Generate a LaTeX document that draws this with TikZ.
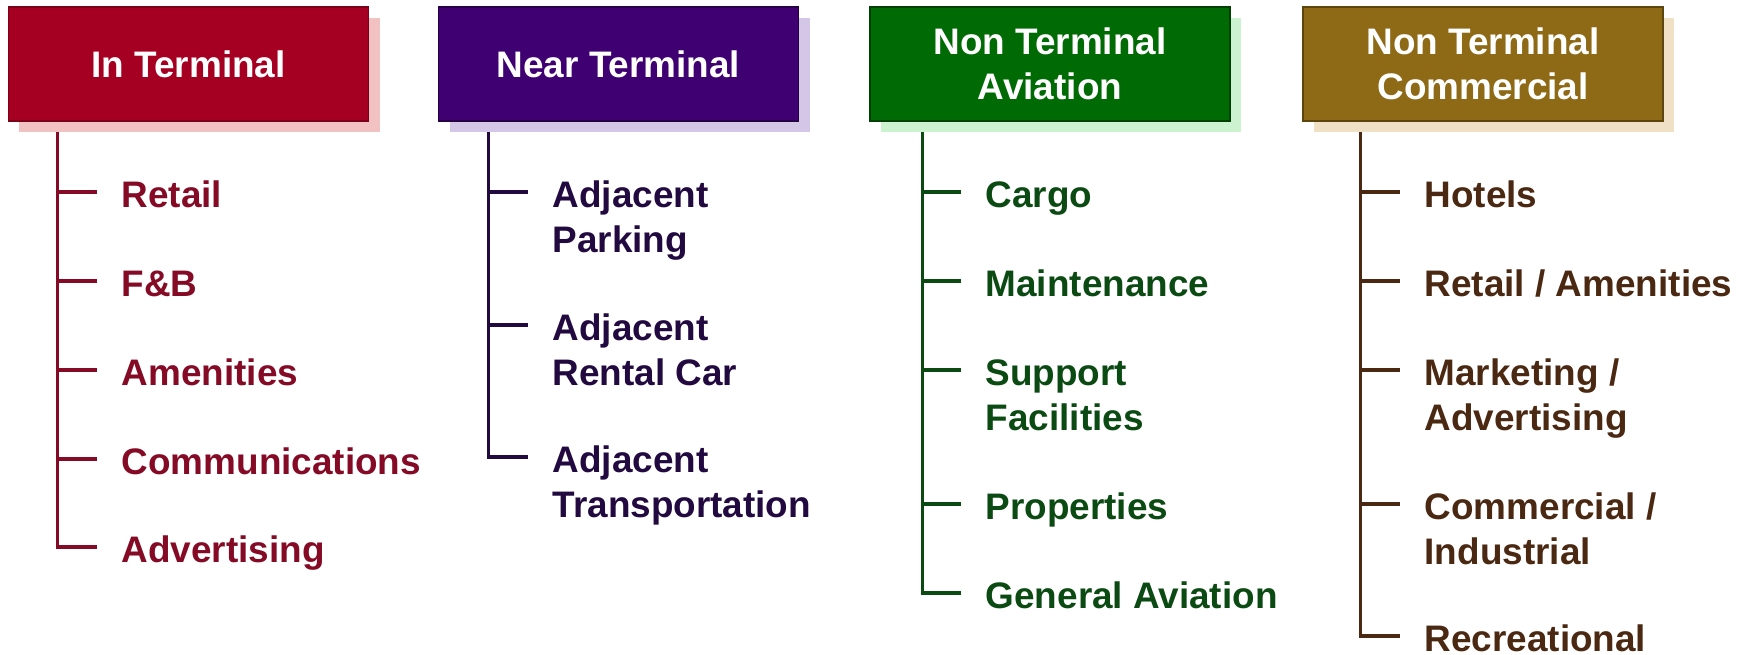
\documentclass[tikz,border=0pt]{standalone}
\usepackage{fontspec}
\setmainfont{Liberation Sans}
\usepackage{tikz}
\usetikzlibrary{shapes,positioning,backgrounds,shadows}

\definecolor{inred}{HTML}{A50021}
\definecolor{inredline}{HTML}{850A25}
\definecolor{inredshadow}{HTML}{F2C2C2}
\definecolor{nearpurple}{HTML}{3F0071}
\definecolor{nearpurpleline}{HTML}{220A40}
\definecolor{nearpurpleshadow}{HTML}{D4C6E6}
\definecolor{avgreen}{HTML}{006B05}
\definecolor{avgreenline}{HTML}{0B4A12}
\definecolor{avgreenshadow}{HTML}{CCF2D0}
\definecolor{combrown}{HTML}{8E6A17}
\definecolor{combrownline}{HTML}{4A2812}
\definecolor{combrownshadow}{HTML}{EFE0C6}

\begin{document}
\begin{tikzpicture}[
    head/.style={rectangle, draw, line width=0.5pt, minimum width=3.6cm, minimum height=1.14cm, align=center, text=white, font=\fontsize{10.5}{12.8}\selectfont\bfseries},
    item/.style={anchor=base west, inner xsep=0.24cm, inner ysep=0pt, align=left, font=\fontsize{10.5}{12.8}\selectfont\bfseries},
    branch/.style={line width=0.9pt}
]
\useasboundingbox (0,0) rectangle (17.48,6.54);

% Headers
\node[head, fill=inred, draw=inred!75!black, general shadow={shadow xshift=1.1mm, shadow yshift=-1.1mm, fill=inredshadow}] (in) at (1.885,5.90) {In Terminal};
\node[head, fill=nearpurple, draw=nearpurple!60!black, general shadow={shadow xshift=1.1mm, shadow yshift=-1.1mm, fill=nearpurpleshadow}] (near) at (6.185,5.90) {Near Terminal};
\node[head, fill=avgreen, draw=avgreen!60!black, general shadow={shadow xshift=1.1mm, shadow yshift=-1.1mm, fill=avgreenshadow}] (aviation) at (10.50,5.90) {Non Terminal\\Aviation};
\node[head, fill=combrown, draw=combrown!65!black, general shadow={shadow xshift=1.1mm, shadow yshift=-1.1mm, fill=combrownshadow}] (commercial) at (14.83,5.90) {Non Terminal\\Commercial};

% In terminal
\node[item, text=inredline] (retail) at (0.97,4.47) {Retail};
\node[item, text=inredline] (fb) at (0.97,3.58) {F\&B};
\node[item, text=inredline] (amenities) at (0.97,2.69) {Amenities};
\node[item, text=inredline] (comms) at (0.97,1.80) {Communications};
\node[item, text=inredline] (advertising) at (0.97,0.92) {Advertising};

% Near terminal (two lines: base sits on the second line)
\node[item, text=nearpurpleline] (parking) at (5.28,4.02) {Adjacent\\Parking};
\node[item, text=nearpurpleline] (rental) at (5.28,2.69) {Adjacent\\Rental Car};
\node[item, text=nearpurpleline] (transport) at (5.28,1.37) {Adjacent\\Transportation};

% Non terminal aviation
\node[item, text=avgreenline] (cargo) at (9.61,4.47) {Cargo};
\node[item, text=avgreenline] (maintenance) at (9.61,3.58) {Maintenance};
\node[item, text=avgreenline] (support) at (9.61,2.24) {Support\\Facilities};
\node[item, text=avgreenline] (properties) at (9.61,1.35) {Properties};
\node[item, text=avgreenline] (general) at (9.61,0.46) {General Aviation};

% Non terminal commercial
\node[item, text=combrownline] (hotels) at (14.00,4.47) {Hotels};
\node[item, text=combrownline] (retailam) at (14.00,3.58) {Retail / Amenities};
\node[item, text=combrownline] (marketing) at (14.00,2.24) {Marketing /\\Advertising};
\node[item, text=combrownline] (industrial) at (14.00,0.90) {Commercial /\\Industrial};
\node[item, text=combrownline] (recreational) at (14.00,0.03) {Recreational};

% Branches (behind the shadows)
\begin{scope}[on background layer]
\draw[branch, inredline] ([xshift=5mm]in.south west) |- ([yshift=1.5mm]retail.base west);
\draw[branch, inredline] ([xshift=5mm]in.south west) |- ([yshift=1.5mm]fb.base west);
\draw[branch, inredline] ([xshift=5mm]in.south west) |- ([yshift=1.5mm]amenities.base west);
\draw[branch, inredline] ([xshift=5mm]in.south west) |- ([yshift=1.5mm]comms.base west);
\draw[branch, inredline] ([xshift=5mm]in.south west) |- ([yshift=1.5mm]advertising.base west);

\draw[branch, nearpurpleline] ([xshift=5.1mm]near.south west) |- ([yshift=6mm]parking.base west);
\draw[branch, nearpurpleline] ([xshift=5.1mm]near.south west) |- ([yshift=6mm]rental.base west);
\draw[branch, nearpurpleline] ([xshift=5.1mm]near.south west) |- ([yshift=6mm]transport.base west);

\draw[branch, avgreenline] ([xshift=5.3mm]aviation.south west) |- ([yshift=1.5mm]cargo.base west);
\draw[branch, avgreenline] ([xshift=5.3mm]aviation.south west) |- ([yshift=1.5mm]maintenance.base west);
\draw[branch, avgreenline] ([xshift=5.3mm]aviation.south west) |- ([yshift=6mm]support.base west);
\draw[branch, avgreenline] ([xshift=5.3mm]aviation.south west) |- ([yshift=1.5mm]properties.base west);
\draw[branch, avgreenline] ([xshift=5.3mm]aviation.south west) |- ([yshift=1.5mm]general.base west);

\draw[branch, combrownline] ([xshift=5.8mm]commercial.south west) |- ([yshift=1.5mm]hotels.base west);
\draw[branch, combrownline] ([xshift=5.8mm]commercial.south west) |- ([yshift=1.5mm]retailam.base west);
\draw[branch, combrownline] ([xshift=5.8mm]commercial.south west) |- ([yshift=6mm]marketing.base west);
\draw[branch, combrownline] ([xshift=5.8mm]commercial.south west) |- ([yshift=6mm]industrial.base west);
\draw[branch, combrownline] ([xshift=5.8mm]commercial.south west) |- ([yshift=1.5mm]recreational.base west);
\end{scope}

\end{tikzpicture}
\end{document}
